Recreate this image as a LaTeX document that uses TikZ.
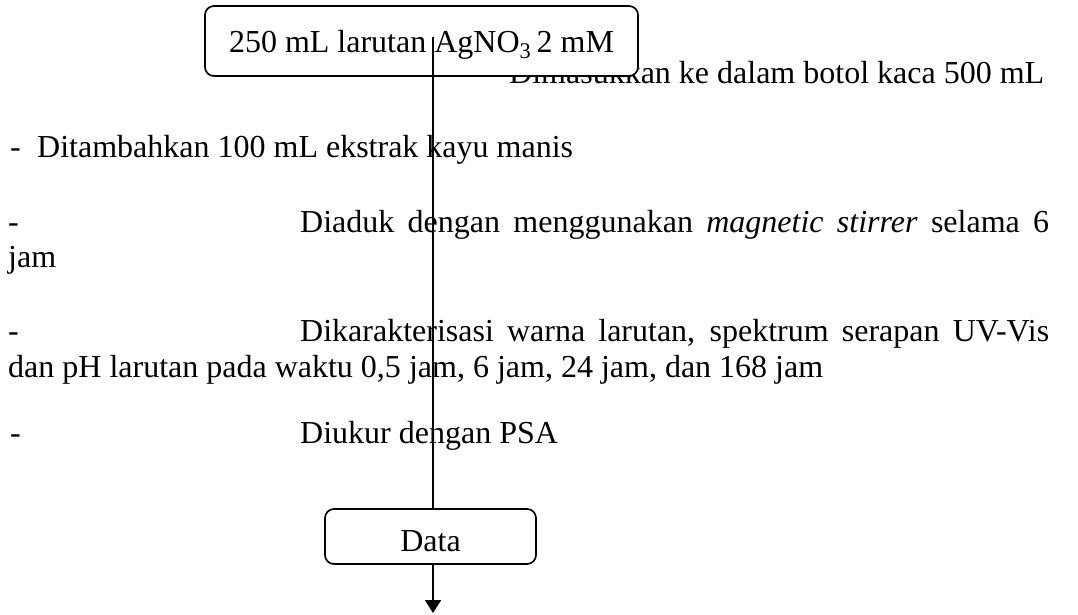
\documentclass[tikz,border=0pt]{standalone}
\usepackage{fontspec}
\setmainfont{Liberation Serif}
\usetikzlibrary{arrows.meta}
\tikzset{
  txt/.style={anchor=base west, inner sep=0pt, font=\fontsize{32}{38}\selectfont},
  procbox/.style={draw, line width=1.7pt, rounded corners=9pt, fill=white, inner sep=0pt,
    font=\fontsize{32}{38}\selectfont},
  flow/.style={line width=1.9pt}
}
\begin{document}
\begin{tikzpicture}[x=1pt,y=-1pt]
\useasboundingbox (0,0) rectangle (1078,614);
% text lines
\node[txt] (t1) at (509,83) {Dimasukkan ke dalam botol kaca 500 mL};
\node[txt] (d1) at (490,83) {-};
\node[txt] (d2) at (10,157) {-};
\node[txt] (t2) at (37,157) {Ditambahkan 100 mL ekstrak kayu manis};
\node[txt] (d3) at (8,232) {-};
\node[txt] (t3) at (300,232) {\makebox[749pt][s]{Diaduk dengan menggunakan \textit{magnetic stirrer} selama 6}};
\node[txt] (t3b) at (8,267) {jam};
\node[txt] (d4) at (8,341) {-};
\node[txt] (t4) at (300,341) {\makebox[749pt][s]{Dikarakterisasi warna larutan, spektrum serapan UV-Vis}};
\node[txt] (t4b) at (8,377) {dan pH larutan pada waktu 0,5 jam, 6 jam, 24 jam, dan 168 jam};
\node[txt] (d5) at (10,443) {-};
\node[txt] (t5) at (300,443) {Diukur dengan PSA};
% boxes
\node[procbox, minimum width=433pt, minimum height=70pt, text height=22pt, text depth=0pt] (src) at (421.5,41) {250 mL larutan AgNO\textsubscript{3}\,2 mM};
\node[procbox, minimum width=211pt, minimum height=55pt, text height=29pt, text depth=0pt] (data) at (430.5,536.5) {Data};
\coordinate (s) at (433,37);
\coordinate (e) at (433,613);
\draw[flow] (s) -- (data.north -| s);
\draw[flow, -{Triangle[width=16pt,length=13pt]}] (data.south -| e) -- (e);
\end{tikzpicture}
\end{document}
